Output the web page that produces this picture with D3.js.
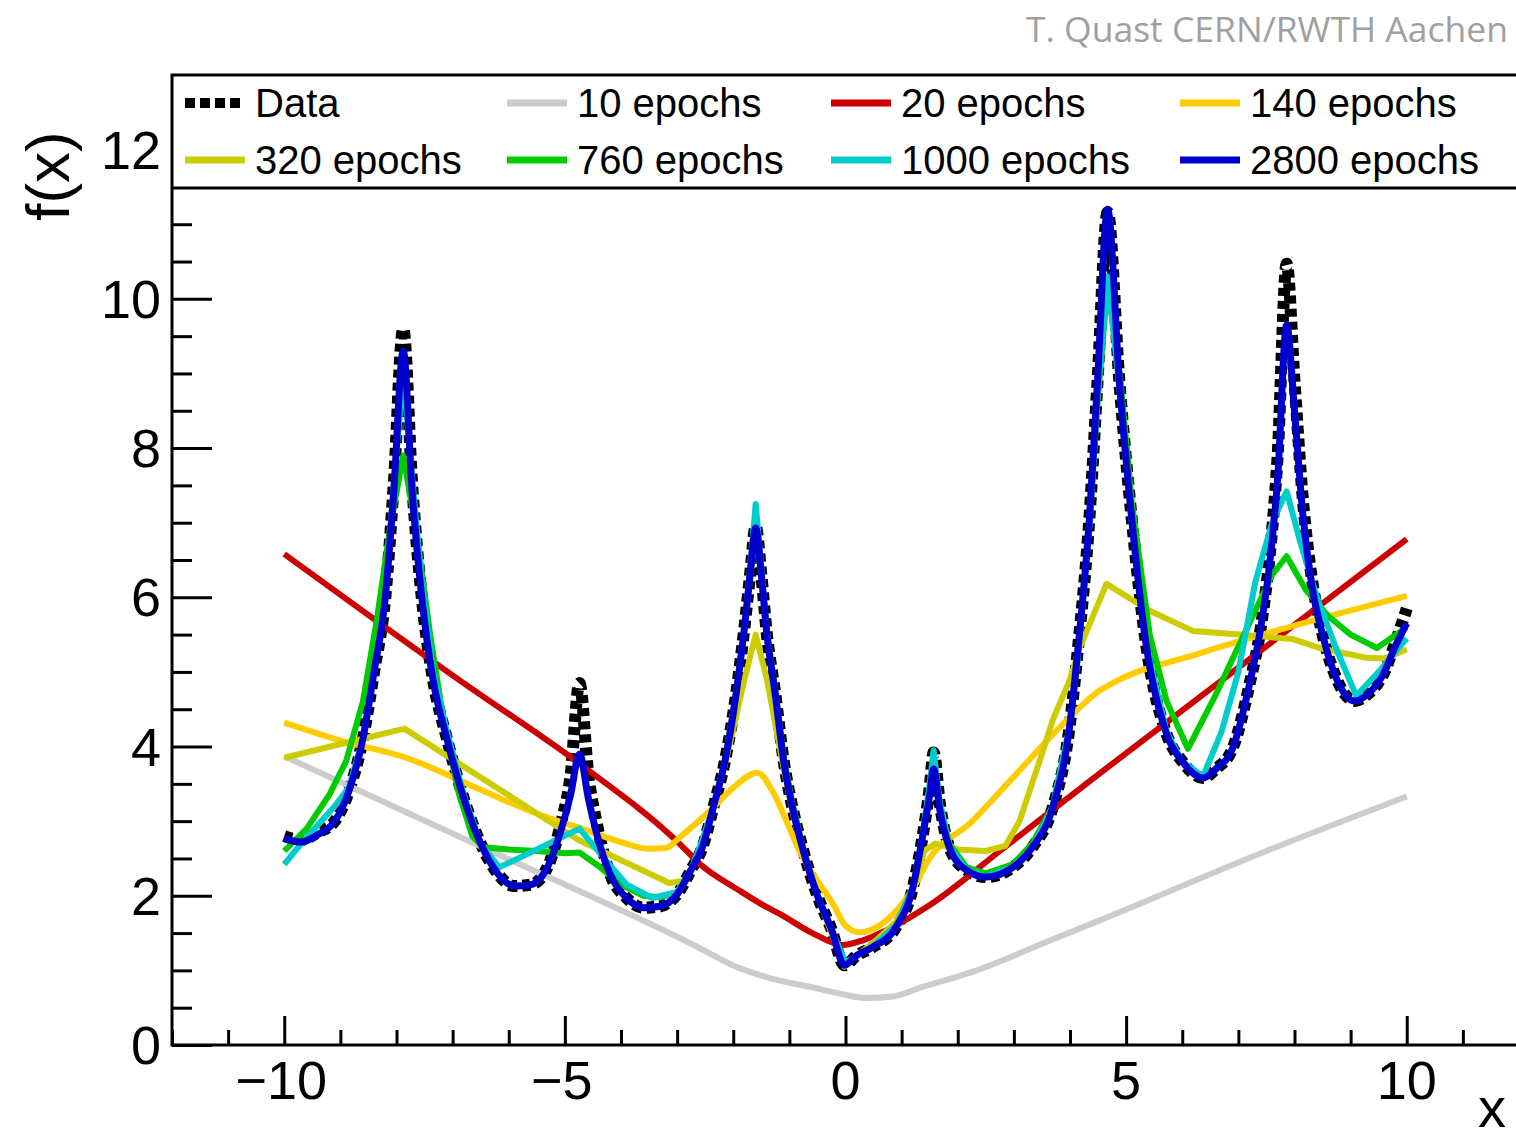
<!DOCTYPE html>
<html>
<head>
<meta charset="utf-8">
<script src="https://cdn.jsdelivr.net/npm/d3@7"></script>
<style>
  html, body { margin: 0; padding: 0; background: #fff; }
  svg { display: block; }
  text { font-family: "Liberation Sans", Arial, sans-serif; fill: #000; }
</style>
</head>
<body>
<div id="chart"></div>
<script>
// shared x grid for the target curve and the best fit
const gridX = [-10, -9.7, -9.4, -9.1, -8.85, -8.6, -8.4, -8.2, -8.05, -7.88, -7.72, -7.55, -7.35, -7.1, -6.8, -6.5, -6.2, -5.9, -5.6, -5.3,
  -5.06, -4.9, -4.74, -4.58, -4.44, -4.2, -3.9, -3.6, -3.3, -3.0, -2.75, -2.55, -2.35, -2.15, -1.95, -1.8, -1.7, -1.6, -1.5, -1.4,
  -1.25, -1.1, -0.95, -0.75, -0.5, -0.25, -0.02, 0.2, 0.48, 0.9, 1.2, 1.37, 1.5, 1.57, 1.68, 1.85, 2.16, 2.5, 2.98, 3.33,
  3.69, 3.99, 4.14, 4.35, 4.49, 4.67, 4.88, 5.1, 5.35, 5.72, 6.0, 6.37, 6.6, 6.9, 7.2, 7.4, 7.55, 7.7, 7.86, 8.0,
  8.15, 8.3, 8.5, 8.7, 8.9, 9.07, 9.3, 9.57, 9.8, 10];
const dataY = [2.8, 2.75, 2.85, 3.0, 3.4, 4.1, 5.0, 6.0, 7.5, 9.6, 7.5, 6.0, 4.9, 4.1, 3.3, 2.7, 2.3, 2.13, 2.15, 2.4,
  3.0, 3.6, 4.85, 3.6, 3.0, 2.3, 1.97, 1.84, 1.86, 2.02, 2.35, 2.65, 3.2, 3.8, 4.7, 5.6, 6.3, 6.95, 6.3, 5.5,
  4.7, 3.8, 3.2, 2.6, 2.0, 1.55, 1.07, 1.2, 1.31, 1.58, 2.11, 2.78, 3.45, 3.92, 3.24, 2.65, 2.34, 2.25, 2.38, 2.65,
  3.18, 4.25, 5.3, 7.11, 8.89, 11.16, 8.89, 7.05, 5.4, 4.17, 3.8, 3.58, 3.7, 3.98, 4.84, 5.6, 6.5, 7.9, 10.47, 8.9,
  7.3, 6.3, 5.5, 5.0, 4.7, 4.61, 4.7, 4.95, 5.4, 5.85];
const ep2800Y = [2.77, 2.72, 2.82, 3.0, 3.4, 4.1, 5.0, 6.0, 7.4, 9.3, 7.4, 6.0, 4.9, 4.1, 3.3, 2.7, 2.3, 2.13, 2.15, 2.4,
  2.9, 3.35, 3.9, 3.3, 2.85, 2.3, 1.97, 1.84, 1.86, 2.02, 2.35, 2.65, 3.2, 3.8, 4.7, 5.6, 6.3, 6.93, 6.3, 5.5,
  4.7, 3.8, 3.2, 2.6, 2.0, 1.55, 1.07, 1.2, 1.31, 1.58, 2.11, 2.78, 3.35, 3.7, 3.15, 2.65, 2.34, 2.25, 2.38, 2.65,
  3.18, 4.25, 5.3, 7.11, 8.89, 11.2, 8.89, 7.05, 5.4, 4.17, 3.8, 3.58, 3.7, 3.98, 4.84, 5.6, 6.4, 7.6, 9.65, 8.5,
  7.1, 6.2, 5.5, 5.0, 4.7, 4.61, 4.7, 4.95, 5.35, 5.65];

const ep10X = [-10, -6.35, -2.6, -2.01, -1.41, -0.52, -0.05, 0.37, 0.84, 1.3, 2.26, 3.58, 4.53, 7.5, 10];
const ep10Y = [3.87, 2.61, 1.3, 1.07, 0.91, 0.76, 0.68, 0.63, 0.65, 0.76, 0.98, 1.38, 1.67, 2.6, 3.33];

const ep20X = [-10, -6.88, -4.74, -2.96, -2.6, -1.89, -1.41, -1.18, -0.59, -0.05, 0.3, 0.73, 1.55, 2.75, 4.53, 10];
const ep20Y = [6.58, 4.89, 3.77, 2.7, 2.43, 2.07, 1.85, 1.76, 1.5, 1.34, 1.4, 1.54, 1.9, 2.6, 3.64, 6.78];

const ep140X = [-10, -9, -7.83, -6.47, -5.5, -4.74, -4.0, -3.5, -3.2, -2.96, -2.37, -2.0, -1.57, -1.3, -1.05, -0.82, -0.5, -0.23, 0.0, 0.25,
  0.73, 1.26, 1.44, 2.26, 2.98, 3.81, 4.53, 4.76, 6.31, 8.09, 10];
const ep140Y = [4.32, 4.08, 3.85, 3.41, 3.1, 2.91, 2.72, 2.63, 2.64, 2.78, 3.17, 3.45, 3.65, 3.4, 3.0, 2.6, 2.2, 1.9, 1.6, 1.51,
  1.67, 2.17, 2.43, 3.0, 3.58, 4.25, 4.75, 4.85, 5.25, 5.64, 6.02];

const ep320X = [-10, -7.86, -5.28, -4.74, -3.14, -2.85, -2.6, -2.35, -2.15, -1.95, -1.8, -1.6, -1.4, -1.25, -1.1, -0.95, -0.75, -0.5, -0.25, -0.02,
  0.2, 0.5, 0.9, 1.2, 1.4, 1.6, 2.0, 2.5, 2.85, 3.1, 3.46, 3.69, 3.99, 4.17, 4.65, 5.42, 6.19, 7.02, 7.97, 8.5, 9.28, 9.6, 10];
const ep320Y = [3.85, 4.24, 3.0, 2.74, 2.17, 2.2, 2.6, 3.2, 3.75, 4.4, 4.9, 5.5, 4.9, 4.3, 3.7, 3.15, 2.55, 2.0, 1.5, 1.05,
  1.2, 1.37, 1.65, 2.1, 2.6, 2.7, 2.62, 2.6, 2.67, 3.0, 3.81, 4.35, 4.88, 5.32, 6.18, 5.82, 5.55, 5.5, 5.44, 5.31, 5.19, 5.18, 5.3];

const ep760X = [-10, -9.6, -9.2, -8.9, -8.6, -8.35, -8.1, -7.88, -7.65, -7.4, -7.15, -6.9, -6.65, -6.45, -6.0, -5.5, -5.0, -4.74, -4.4, -4.0,
  -3.6, -3.3, -3.0, -2.75, -2.55, -2.35, -2.15, -1.95, -1.8, -1.7, -1.6, -1.5, -1.4, -1.25, -1.1, -0.95, -0.75, -0.5, -0.25, -0.02,
  0.2, 0.48, 0.9, 1.2, 1.37, 1.5, 1.57, 1.68, 1.85, 2.16, 2.5, 2.98, 3.33, 3.69, 3.99, 4.14, 4.35, 4.49, 4.67, 4.9,
  5.1, 5.42, 5.72, 6.1, 6.6, 7.1, 7.6, 7.86, 8.2, 8.6, 9.0, 9.47, 10];
const ep760Y = [2.6, 2.9, 3.35, 3.8, 4.6, 5.7, 7.0, 7.9, 6.9, 5.5, 4.3, 3.4, 2.8, 2.65, 2.62, 2.6, 2.57, 2.58, 2.4, 2.15,
  2.0, 1.98, 2.05, 2.35, 2.65, 3.2, 3.8, 4.7, 5.6, 6.25, 6.9, 6.3, 5.55, 4.75, 3.85, 3.25, 2.62, 2.0, 1.55, 1.08,
  1.2, 1.31, 1.58, 2.11, 2.78, 3.45, 3.8, 3.24, 2.7, 2.38, 2.3, 2.42, 2.7, 3.2, 4.25, 5.2, 7.0, 8.6, 10.2, 8.9,
  7.28, 5.5, 4.61, 3.97, 4.7, 5.5, 6.3, 6.55, 6.1, 5.75, 5.5, 5.32, 5.6];

const ep1000X = [-10, -9.7, -9.4, -9.1, -8.85, -8.6, -8.4, -8.2, -8.05, -7.88, -7.72, -7.55, -7.35, -7.1, -6.8, -6.5, -6.17, -5.5, -4.74, -4.3,
  -3.9, -3.44, -3.0, -2.75, -2.55, -2.35, -2.15, -1.95, -1.8, -1.7, -1.6, -1.5, -1.4, -1.25, -1.1, -0.95, -0.75, -0.5, -0.25, 0.0,
  0.48, 0.9, 1.2, 1.37, 1.5, 1.57, 1.68, 1.85, 2.16, 2.5, 2.98, 3.33, 3.69, 3.99, 4.14, 4.35, 4.49, 4.67, 4.88, 5.1,
  5.35, 5.72, 6.0, 6.37, 6.7, 7.0, 7.3, 7.6, 7.86, 8.1, 8.4, 8.75, 9.1, 9.5, 10];
const ep1000Y = [2.42, 2.7, 2.95, 3.2, 3.45, 4.1, 5.0, 6.0, 7.5, 9.0, 7.6, 6.2, 5.0, 4.2, 3.35, 2.7, 2.38, 2.62, 2.9, 2.5,
  2.15, 1.97, 2.05, 2.35, 2.75, 3.2, 3.8, 4.7, 5.6, 6.4, 7.25, 6.4, 5.5, 4.6, 3.8, 3.2, 2.6, 2.0, 1.55, 1.1,
  1.32, 1.6, 2.1, 2.8, 3.5, 3.95, 3.25, 2.66, 2.34, 2.26, 2.38, 2.65, 3.18, 4.25, 5.2, 7.0, 8.7, 10.3, 8.8, 7.0,
  5.4, 4.2, 3.8, 3.6, 4.2, 5.0, 6.2, 7.0, 7.42, 6.75, 6.0, 5.3, 4.68, 5.0, 5.45];

const legendLabels = ["Data", "10 epochs", "20 epochs", "140 epochs", "320 epochs", "760 epochs", "1000 epochs", "2800 epochs"];
const legendColors = ["#000000", "#cccccc", "#cc0000", "#ffcc00", "#cccc00", "#00cc00", "#00cccc", "#0000cc"];

const yMajor = [0, 2, 4, 6, 8, 10, 12];
const xMajor = [-10, -5, 0, 5, 10];

const W = 1516, H = 1144;
const plot = { left: 172, top: 75, bottom: 1045, right: 1519 };

const svg = d3.select("#chart").append("svg").attr("width", W).attr("height", H);

const x = d3.scaleLinear().domain([-12, 12]).range([plot.left, plot.right]);
const y = d3.scaleLinear().domain([0, 13]).range([plot.bottom, plot.top]);

const zip = (xs, ys) => xs.map((v, i) => [v, ys[i]]);
const smooth = d3.line().x((d) => x(d[0])).y((d) => y(d[1])).curve(d3.curveMonotoneX);
const poly = d3.line().x((d) => x(d[0])).y((d) => y(d[1]));

// curves, in the order they are drawn
const series = [
  { pts: zip(gridX, dataY), color: legendColors[0], w: 12, dash: "8,5", gen: smooth },
  { pts: zip(ep10X, ep10Y), color: legendColors[1], w: 6, gen: smooth },
  { pts: zip(ep20X, ep20Y), color: legendColors[2], w: 6, gen: smooth },
  { pts: zip(ep140X, ep140Y), color: legendColors[3], w: 6, gen: smooth },
  { pts: zip(ep320X, ep320Y), color: legendColors[4], w: 6, gen: poly },
  { pts: zip(ep760X, ep760Y), color: legendColors[5], w: 6, gen: poly },
  { pts: zip(ep1000X, ep1000Y), color: legendColors[6], w: 6, gen: poly },
  { pts: zip(gridX, ep2800Y), color: legendColors[7], w: 7, gen: smooth },
];

series.forEach((s) => {
  svg.append("path")
    .datum(s.pts)
    .attr("fill", "none")
    .attr("stroke", s.color)
    .attr("stroke-width", s.w)
    .attr("stroke-linejoin", "round")
    .attr("stroke-dasharray", s.dash || null)
    .attr("d", s.gen);
});

// ticks (pointing inwards, ROOT style)
function ticks(axis, size, translate) {
  const g = svg.append("g").attr("transform", translate).call(axis.tickSize(size).tickFormat(""));
  g.select(".domain").remove();
  g.selectAll(".tick line").attr("stroke", "#000").attr("stroke-width", 3);
  return g;
}
ticks(d3.axisRight(y).tickValues(yMajor), 40, `translate(${plot.left},0)`);
ticks(d3.axisRight(y).tickValues(d3.range(0.5, 13, 0.5).filter((v) => v % 2 !== 0)), 20, `translate(${plot.left},0)`);
ticks(d3.axisTop(x).tickValues(xMajor), 29, `translate(0,${plot.bottom})`);
ticks(d3.axisTop(x).tickValues(d3.range(-12, 13, 1).filter((v) => v % 5 !== 0)), 15, `translate(0,${plot.bottom})`);

// legend box
const leg = svg.append("g");
leg.append("rect")
  .attr("x", plot.left).attr("y", plot.top)
  .attr("width", W - plot.left + 10).attr("height", 188 - plot.top)
  .attr("fill", "#fff");
const colLine = [185, 507, 831, 1180];
const rowY = [103, 160];
legendLabels.forEach((lab, i) => {
  const c = i % 4, r = Math.floor(i / 4);
  const lx = colLine[c], ly = rowY[r];
  leg.append("line")
    .attr("x1", lx).attr("x2", lx + 60).attr("y1", ly).attr("y2", ly)
    .attr("stroke", legendColors[i])
    .attr("stroke-width", i === 0 ? 10 : 7)
    .attr("stroke-dasharray", i === 0 ? "10,5" : null);
  leg.append("text")
    .attr("x", lx + 70).attr("y", ly + 14)
    .style("font-size", "40px")
    .text(lab);
});

// frame
svg.append("path")
  .attr("d", `M${W + 5},${plot.top}H${plot.left}V${plot.bottom}H${W + 5}M${plot.left},188H${W + 5}`)
  .attr("fill", "none").attr("stroke", "#000").attr("stroke-width", 3);

// tick labels
svg.append("g").selectAll("text").data(yMajor).join("text")
  .attr("x", 161).attr("y", (d) => y(d) + 19)
  .attr("text-anchor", "end")
  .style("font-size", "54px")
  .text((d) => d);
svg.append("g").selectAll("text").data(xMajor).join("text")
  .attr("x", (d) => x(d) - (d < 0 ? 3 : 0)).attr("y", 1099)
  .attr("text-anchor", "middle")
  .style("font-size", "54px")
  .text((d) => (d < 0 ? "\u2212" + Math.abs(d) : d));

// axis titles
svg.append("text")
  .attr("transform", "translate(69,176) rotate(-90)")
  .attr("text-anchor", "middle")
  .style("font-size", "62px")
  .text("f(x)");
svg.append("text")
  .attr("x", 1506).attr("y", 1127)
  .attr("text-anchor", "end")
  .style("font-size", "56px")
  .text("x");

// credit
svg.append("text")
  .attr("x", 1508).attr("y", 42)
  .attr("text-anchor", "end")
  .style("font-family", "'Open Sans', sans-serif")
  .style("font-size", "35.5px")
  .style("fill", "#a0a0a0")
  .text("T. Quast CERN/RWTH Aachen");
</script>
</body>
</html>
